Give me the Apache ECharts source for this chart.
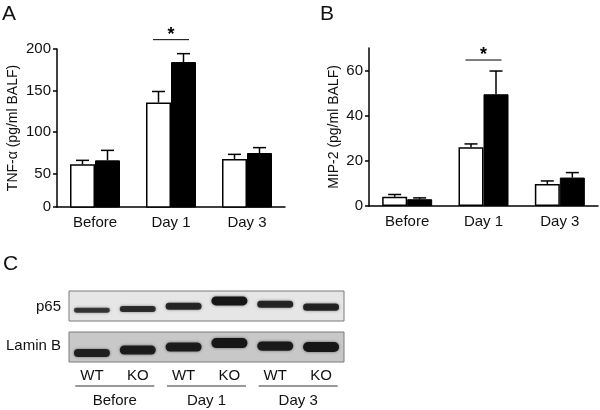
<!DOCTYPE html>
<html>
<head>
<meta charset="utf-8">
<script src="https://cdn.jsdelivr.net/npm/echarts@6/dist/echarts.min.js"></script>
<style>html,body{margin:0;padding:0;background:#fff}#c{width:600px;height:410px}</style>
</head>
<body>
<div id="c"></div>
<script>
// ---- data ----
const categories = ['Before', 'Day 1', 'Day 3'];
const tnfWT = [61.3, 135.7, 67.7];
const tnfWTErr = [4.8, 13.2, 5.6];
const tnfKO = [66.1, 184.3, 74.9];
const tnfKOErr = [12.0, 10.1, 6.5];
const tnfTicks = [10, 50, 100, 150, 200];   // bottom of broken axis is labelled "0"
const mipWT = [4.1, 26.0, 9.8];
const mipWTErr = [1.0, 1.5, 1.3];
const mipKO = [3.0, 49.5, 12.6];
const mipKOErr = [0.6, 10.3, 2.2];
const mipTicks = [0, 20, 40, 60];
const lanes = ['WT', 'KO', 'WT', 'KO', 'WT', 'KO'];
const groups = ['Before', 'Day 1', 'Day 3'];
const p65Density = [0.55, 0.67, 0.78, 1.0, 0.78, 0.8];
const p65Migration = [0.64, 0.60, 0.51, 0.33, 0.44, 0.54];
const laminDensity = [0.8, 0.9, 0.9, 1.0, 0.92, 1.0];
const laminMigration = [0.70, 0.60, 0.50, 0.37, 0.47, 0.50];

const FONT = "'Liberation Sans', Arial, Helvetica, sans-serif";
const chart = echarts.init(document.getElementById('c'), null, {renderer: 'canvas'});

function errRender(offset) {
  return function (params, api) {
    const top = api.coord([api.value(0), api.value(1) + api.value(2)]);
    const base = api.coord([api.value(0), api.value(1)]);
    const x = top[0] + offset;
    const st = {stroke: '#000', lineWidth: 1.5};
    return {type: 'group', children: [
      {type: 'line', shape: {x1: x, y1: base[1], x2: x, y2: top[1]}, style: st},
      {type: 'line', shape: {x1: x - 6.5, y1: top[1], x2: x + 6.5, y2: top[1]}, style: st}
    ]};
  };
}
function bandRender(maxH) {
  return function (params, api) {
    const p = api.coord([api.value(0), api.value(1)]);
    const d = api.value(2);
    const w = 36, h = Math.max(3, d * maxH);
    return {type: 'rect', shape: {x: p[0] - w / 2, y: p[1] - h / 2, width: w, height: h, r: [h / 2, h / 2, h / 2, h / 2]},
      style: {fill: 'rgba(22,22,22,' + (0.5 + 0.5 * d) + ')', shadowBlur: 3, shadowColor: 'rgba(0,0,0,0.5)'}};
  };
}
const triples = (m, e) => m.map((v, i) => [i, v, e[i]]);
const bands = (d, m) => d.map((v, i) => [i, m[i], v]);

const valAxisCommon = {
  axisLine: {show: true, lineStyle: {color: '#000', width: 1.5}},
  axisTick: {show: true, length: 4, lineStyle: {color: '#000', width: 1.5}},
  splitLine: {show: false},
  axisLabel: {color: '#111', fontSize: 15, fontFamily: FONT, margin: 6},
  nameLocation: 'middle', nameRotate: 90,
  nameTextStyle: {color: '#111', fontSize: 14, fontFamily: FONT}
};
const catAxisCommon = {
  type: 'category', data: categories,
  axisLine: {show: true, lineStyle: {color: '#000', width: 1.5}},
  axisTick: {show: false},
  axisLabel: {color: '#111', fontSize: 15, fontFamily: FONT, margin: 8}
};
const hidden = {show: false};

chart.setOption({
  animation: false,
  backgroundColor: '#fff',
  grid: [
    {left: 57, top: 49, width: 228, height: 158},
    {left: 369, top: 48, width: 229, height: 158},
    {left: 69, top: 291, width: 275, height: 30, show: true, borderColor: '#7a7a7a', borderWidth: 1, backgroundColor: '#e6e6e6'},
    {left: 69, top: 332, width: 275, height: 30, show: true, borderColor: '#7a7a7a', borderWidth: 1, backgroundColor: '#c8c8c8'}
  ],
  xAxis: [
    Object.assign({gridIndex: 0}, catAxisCommon),
    Object.assign({gridIndex: 1}, catAxisCommon),
    {gridIndex: 2, type: 'category', data: lanes, show: false},
    {gridIndex: 3, type: 'category', data: lanes, axisLine: hidden, axisTick: hidden,
      axisLabel: {color: '#111', fontSize: 15, fontFamily: FONT, margin: 6}},
    {gridIndex: 3, type: 'category', data: groups, position: 'bottom', offset: 31, axisLine: hidden, axisTick: hidden,
      axisLabel: {color: '#111', fontSize: 15, fontFamily: FONT, margin: 0}}
  ],
  yAxis: [
    Object.assign({}, valAxisCommon, {gridIndex: 0, type: 'value', min: 10, max: 200,
      name: 'TNF-α (pg/ml BALF)', nameGap: 37,
      axisTick: Object.assign({}, valAxisCommon.axisTick, {customValues: tnfTicks}),
      axisLabel: Object.assign({}, valAxisCommon.axisLabel, {customValues: tnfTicks, formatter: v => (v === 10 ? '0' : String(v))})}),
    Object.assign({}, valAxisCommon, {gridIndex: 1, type: 'value', min: 0, max: 70,
      name: 'MIP-2 (pg/ml BALF)', nameGap: 28,
      axisTick: Object.assign({}, valAxisCommon.axisTick, {customValues: mipTicks}),
      axisLabel: Object.assign({}, valAxisCommon.axisLabel, {customValues: mipTicks})}),
    {gridIndex: 2, type: 'value', min: 0, max: 1, inverse: true, show: false},
    {gridIndex: 3, type: 'value', min: 0, max: 1, inverse: true, show: false}
  ],
  series: [
    {type: 'bar', xAxisIndex: 0, yAxisIndex: 0, data: tnfWT, barWidth: 25, barGap: '0%', clip: true,
      itemStyle: {color: '#fff', borderColor: '#000', borderWidth: 1.5}},
    {type: 'bar', xAxisIndex: 0, yAxisIndex: 0, data: tnfKO, barWidth: 25, barGap: '0%', clip: true,
      itemStyle: {color: '#000', borderColor: '#000', borderWidth: 1}},
    {type: 'custom', xAxisIndex: 0, yAxisIndex: 0, data: triples(tnfWT, tnfWTErr), renderItem: errRender(-12.5), z: 5},
    {type: 'custom', xAxisIndex: 0, yAxisIndex: 0, data: triples(tnfKO, tnfKOErr), renderItem: errRender(12.5), z: 5},
    {type: 'bar', xAxisIndex: 1, yAxisIndex: 1, data: mipWT, barWidth: 25, barGap: '0%',
      itemStyle: {color: '#fff', borderColor: '#000', borderWidth: 1.5}},
    {type: 'bar', xAxisIndex: 1, yAxisIndex: 1, data: mipKO, barWidth: 25, barGap: '0%',
      itemStyle: {color: '#000', borderColor: '#000', borderWidth: 1}},
    {type: 'custom', xAxisIndex: 1, yAxisIndex: 1, data: triples(mipWT, mipWTErr), renderItem: errRender(-12.5), z: 5},
    {type: 'custom', xAxisIndex: 1, yAxisIndex: 1, data: triples(mipKO, mipKOErr), renderItem: errRender(12.5), z: 5},
    {type: 'custom', xAxisIndex: 2, yAxisIndex: 2, data: bands(p65Density, p65Migration), renderItem: bandRender(9)},
    {type: 'custom', xAxisIndex: 3, yAxisIndex: 3, data: bands(laminDensity, laminMigration), renderItem: bandRender(10)}
  ]
});

// annotations derived from the axes
const g = [];
const txt = (x, y, s, size, align) => ({type: 'text', x: x, y: y,
  style: {text: s, fill: '#111', fontSize: size, fontFamily: FONT, align: align || 'left', verticalAlign: 'middle'}});
g.push(txt(2, 14, 'A', 21), txt(320, 14, 'B', 21), txt(3, 264, 'C', 21));
g.push(txt(61, 307, 'p65', 15, 'right'), txt(61, 346, 'Lamin B', 15, 'right'));

function sig(xi, yi, topVal, gap) {
  const c = chart.convertToPixel({xAxisIndex: xi, yAxisIndex: yi}, ['Day 1', topVal]);
  const y = c[1] - gap;
  g.push({type: 'line', shape: {x1: c[0] - 18, y1: y, x2: c[0] + 18, y2: y}, style: {stroke: '#000', lineWidth: 1}});
  g.push({type: 'text', x: c[0], y: y - 5, style: {text: '*', fill: '#000', fontSize: 18, fontFamily: FONT, align: 'center', verticalAlign: 'middle', fontWeight: 'bold'}});
}
sig(0, 0, tnfKO[1] + tnfKOErr[1], 14);
sig(1, 1, mipKO[1] + mipKOErr[1], 11);

const yb = chart.convertToPixel({yAxisIndex: 3}, 1) + 24;
groups.forEach(function (name) {
  const cx = chart.convertToPixel({xAxisIndex: 4}, name);
  g.push({type: 'line', shape: {x1: cx - 39.5, y1: yb, x2: cx + 39.5, y2: yb}, style: {stroke: '#333', lineWidth: 1.2}});
});
chart.setOption({graphic: g});
</script>
</body>
</html>
